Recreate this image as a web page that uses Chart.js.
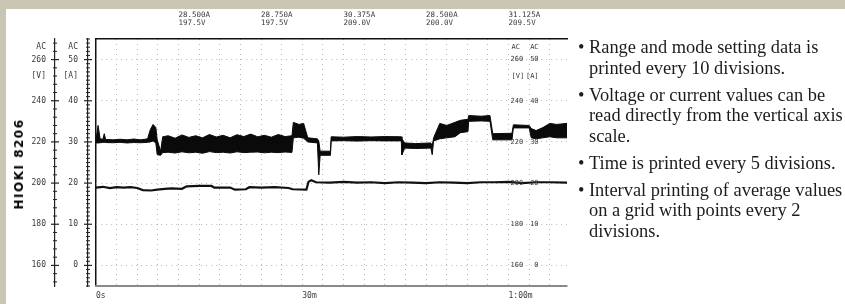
<!DOCTYPE html>
<html>
<head>
<meta charset="utf-8">
<script src="https://cdn.jsdelivr.net/npm/chart.js@4.4.1/dist/chart.umd.min.js"></script>
<style>
html, body { margin: 0; padding: 0; }
body { width: 845px; height: 304px; overflow: hidden; background: #c9c7b3; position: relative; }
#sheet { position: absolute; left: 6px; top: 9px; right: 0; bottom: 0; background: #fff; }
#chart { position: absolute; left: 0; top: 0; }
#brand { position: absolute; left: 19px; top: 164px; transform: translate(-50%, -50%) rotate(-90deg);
  font: bold 12px "DejaVu Sans", sans-serif; letter-spacing: 1.5px; white-space: nowrap; color: #000; }
#notes { position: absolute; left: 578px; top: 37px; font-family: "Liberation Serif", "Times New Roman", serif;
  font-size: 18.4px; line-height: 20.5px; color: #1c1c1c; white-space: nowrap; }
#notes .item { position: relative; padding-left: 11px; margin-bottom: 6.5px; }
#notes .item span { position: absolute; left: 0; top: 0; }
</style>
</head>
<body>
<div id="sheet"></div>
<canvas id="chart" width="845" height="304"></canvas>
<div id="brand">HIOKI 8206</div>
<div id="notes">
  <div class="item"><span>•</span>Range and mode setting data is<br>printed every 10 divisions.</div>
  <div class="item"><span>•</span>Voltage or current values can be<br>read directly from the vertical axis<br>scale.</div>
  <div class="item"><span>•</span>Time is printed every 5 divisions.</div>
  <div class="item"><span>•</span>Interval printing of average values<br>on a grid with points every 2<br>divisions.</div>
</div>
<script>
// time in minutes, voltage envelope (max / min of each printed interval)
const voltTime = [0, 0.3, 0.6, 1.0, 1.2, 1.4, 2.5, 3.5, 4.5, 5.5, 6.5, 7.5, 7.9, 8.3, 8.7, 8.9, 9.4, 9.7,
  10.5, 11.5, 12.5, 13.5, 14.5, 15.5, 16.5, 17.5, 18.5, 19.5, 20.5, 21.5, 22.5, 23.5, 24.5, 25.5, 26.5, 27.5,
  28.5, 28.7, 29.5, 30.2, 30.8, 32.2, 32.4, 32.6, 34.1, 34.2, 36, 38, 40, 42, 44.4, 44.5, 44.9, 46.5,
  48.7, 48.9, 49.1, 50.0, 51.0, 52.2, 53.0, 54.1, 54.2, 56.0, 57.3, 57.7, 60.5, 60.7, 63.0, 63.3, 64.0,
  65.0, 66.0, 67.0, 68.5];
const voltHigh = [221.0, 228.0, 221.5, 221.3, 224.0, 221.2, 221.0, 221.3, 221.0, 221.4, 221.0, 221.5, 226.0, 228.5, 227.0, 221.0, 215.5, 222.5,
  223.0, 221.8, 223.4, 222.2, 223.0, 222.0, 223.6, 222.4, 223.2, 222.0, 223.5, 222.6, 223.8, 222.5, 223.2, 222.3, 223.6, 222.6,
  223.0, 229.5, 228.5, 229.0, 222.0, 221.5, 220.5, 215.5, 215.5, 222.5, 222.3, 222.6, 222.4, 222.6, 222.5, 221.5, 219.5, 219.2,
  219.5, 218.0, 222.0, 229.0, 228.0, 229.5, 230.5, 231.0, 232.8, 232.5, 232.8, 224.0, 224.2, 228.3, 228.0, 226.5, 225.5,
  227.0, 229.0, 228.5, 229.0];
const voltLow = [219.5, 219.5, 219.6, 219.8, 219.8, 219.7, 219.6, 219.8, 219.5, 219.7, 219.6, 219.8, 220.0, 220.5, 219.5, 213.8, 213.5, 214.8,
  215.0, 214.6, 215.2, 214.7, 215.0, 214.5, 215.3, 214.8, 215.0, 214.6, 215.2, 214.8, 215.0, 215.1, 214.7, 215.0, 214.8, 215.1,
  214.9, 222.0, 222.3, 221.8, 220.0, 219.5, 204.0, 213.5, 213.5, 220.5, 220.6, 220.4, 220.6, 220.5, 220.5, 213.8, 217.0, 216.8,
  217.0, 213.8, 220.5, 221.5, 222.0, 222.5, 224.5, 225.0, 230.0, 230.2, 230.0, 221.0, 221.0, 226.8, 226.8, 222.0, 221.5,
  222.0, 222.5, 222.0, 222.0];

// current trace
const ampTime = [0, 1, 2, 3, 4, 5, 6, 6.8, 8, 8.9, 10, 11, 12.5, 13.2, 15, 16.8, 17.2, 19.5, 20.2, 21.8, 22.3, 24, 26, 28,
  28.6, 30.6, 30.9, 31.3, 32, 34, 36, 38, 40, 42, 44, 46, 48, 50, 52, 54, 56, 58, 60, 62, 64, 66, 68.5];
const ampValue = [18.9, 19.1, 18.8, 19.0, 18.9, 19.0, 18.8, 18.3, 18.2, 18.4, 18.6, 18.7, 18.6, 19.2, 19.3, 19.3, 18.9, 18.9, 18.4, 18.5, 19.0, 18.9, 19.0, 18.8,
  18.5, 18.4, 20.3, 20.7, 20.2, 20.1, 20.3, 20.1, 20.2, 20.0, 20.2, 20.1, 20.0, 20.2, 20.1, 20.0, 20.2, 20.2, 20.3, 20.0, 20.2, 20.2, 20.1];

// range / mode printout every 10 divisions
const rangeTimes = [12, 24, 36, 48, 60];
const rangeCurrent = ['28.500A', '28.750A', '30.375A', '28.500A', '31.125A'];
const rangeVoltage = ['197.5V', '197.5V', '209.0V', '200.0V', '209.5V'];

const timeTicks = [0, 30, 60];
const timeLabels = ['0s', '30m', '1:00m'];
const voltTicks = [160, 180, 200, 220, 240, 260];
const ampTicks = [0, 10, 20, 30, 40, 50];
const voltUnits = { 266: 'AC', 252: '[V]' };
const ampUnits = { 53: 'AC', 46: '[A]' };

const tickFont = { family: 'DejaVu Sans Mono', size: 8 };
const ink = '#3a3a3a';
const gridInk = '#b8b8b8';

function pts(xs, ys) {
  return xs.map((t, i) => ({ x: t, y: ys[i] }));
}

function axisTicks(from, to, step, extra) {
  const vals = [];
  for (let v = from; v <= to; v += step) vals.push(v);
  Object.keys(extra).forEach(k => { if (!vals.includes(+k)) vals.push(+k); });
  return vals.sort((a, b) => a - b);
}

// tick crosses on the two scales and the repeated scale at 1:00
const recorderMarks = {
  id: 'recorderMarks',
  afterDraw(chart) {
    const { ctx, scales } = chart;
    ctx.save();
    ctx.strokeStyle = '#222';
    [[scales.yV, voltTicks, 4], [scales.yA, ampTicks, 1]].forEach(([s, majors, step]) => {
      const ax = s.right;
      s.ticks.forEach(t => {
        if (t.value % step !== 0) return;
        const y = s.getPixelForValue(t.value);
        const len = majors.includes(t.value) ? 4 : 2;
        ctx.lineWidth = majors.includes(t.value) ? 1.2 : 1;
        ctx.beginPath();
        ctx.moveTo(ax - len, y);
        ctx.lineTo(ax + len, y);
        ctx.stroke();
      });
    });
    const x60 = scales.x.getPixelForValue(60);
    ctx.font = '7px "DejaVu Sans Mono"';
    ctx.fillStyle = ink;
    ctx.textBaseline = 'middle';
    voltTicks.forEach((v, i) => {
      const y = scales.yV.getPixelForValue(v);
      ctx.textAlign = 'left';
      ctx.fillText(String(v), x60 + 2, y);
      ctx.textAlign = 'right';
      ctx.fillText(String(ampTicks[i]), x60 + 30, y);
    });
    Object.keys(voltUnits).forEach(k => {
      const y = scales.yV.getPixelForValue(+k);
      ctx.textAlign = 'left';
      ctx.fillText(voltUnits[k], x60 + 3, y);
    });
    Object.keys(ampUnits).forEach(k => {
      const y = scales.yA.getPixelForValue(+k);
      ctx.textAlign = 'right';
      ctx.fillText(ampUnits[k], x60 + 30, y);
    });
    ctx.restore();
  }
};

new Chart(document.getElementById('chart'), {
  type: 'line',
  data: {
    datasets: [
      { label: 'Voltage max', data: pts(voltTime, voltHigh), xAxisID: 'x', yAxisID: 'yV',
        borderColor: '#0a0a0a', backgroundColor: '#0a0a0a', borderWidth: 1, pointRadius: 0, fill: '+1', tension: 0 },
      { label: 'Voltage min', data: pts(voltTime, voltLow), xAxisID: 'x', yAxisID: 'yV',
        borderColor: '#0a0a0a', borderWidth: 1, pointRadius: 0, fill: false, tension: 0 },
      { label: 'Current', data: pts(ampTime, ampValue), xAxisID: 'x', yAxisID: 'yA',
        borderColor: '#111', borderWidth: 2.2, pointRadius: 0, fill: false, tension: 0 }
    ]
  },
  options: {
    responsive: false,
    animation: false,
    devicePixelRatio: 1,
    layout: { padding: { left: 20, right: 278, top: 9, bottom: 0 } },
    plugins: { legend: { display: false }, tooltip: { enabled: false } },
    scales: {
      x: {
        type: 'linear', axis: 'x', position: 'bottom', min: 0, max: 68.5,
        afterBuildTicks: s => { s.ticks = axisTicks(0, 66, 3, {}).map(v => ({ value: v })); },
        afterFit: s => { s.height = 18; },
        ticks: {
          autoSkip: false, maxRotation: 0, align: 'start', padding: 5, color: ink, font: tickFont,
          callback: v => { const i = timeTicks.indexOf(v); return i >= 0 ? timeLabels[i] : ''; }
        },
        grid: {
          drawTicks: false,
          color: c => (c.tick && c.tick.value === 0) ? '#111' : gridInk,
          lineWidth: c => (c.tick && c.tick.value === 0) ? 1.5 : 1
        },
        border: { display: true, color: '#8a8a8a', width: 2, dash: c => (c.tick && c.tick.value !== 0) ? [1, 4] : [] }
      },
      xTop: {
        type: 'linear', axis: 'x', position: 'top', min: 0, max: 68.5,
        afterBuildTicks: s => { s.ticks = rangeTimes.map(v => ({ value: v })); },
        afterFit: s => { s.height = 30; },
        ticks: {
          autoSkip: false, maxRotation: 0, align: 'start', padding: 4, color: ink,
          font: { family: 'DejaVu Sans Mono', size: 7.5, lineHeight: 1.05 },
          callback: v => { const i = rangeTimes.indexOf(v); return i >= 0 ? [rangeCurrent[i], rangeVoltage[i]] : ''; }
        },
        grid: { display: false },
        border: { display: true, color: '#111', width: 1.5 }
      },
      yV: {
        type: 'linear', axis: 'y', position: 'left', weight: 3, min: 150, max: 270,
        afterBuildTicks: s => { s.ticks = axisTicks(152, 268, 4, voltUnits).map(v => ({ value: v })); },
        afterFit: s => { s.width = 35; },
        ticks: {
          autoSkip: false, padding: 9, color: ink, font: tickFont,
          callback: v => voltUnits[v] || (voltTicks.includes(v) ? String(v) : '')
        },
        grid: {
          drawTicks: false,
          color: c => (c.tick && c.tick.value % 10 === 0 && c.tick.value >= 160 && c.tick.value <= 260) ? gridInk : 'transparent'
        },
        border: { display: true, color: '#222', width: 1.2, dash: [1, 4] }
      },
      yA: {
        type: 'linear', axis: 'y', position: 'left', weight: 2, min: -5, max: 55,
        afterBuildTicks: s => { s.ticks = axisTicks(-5, 55, 1, ampUnits).map(v => ({ value: v })); },
        afterFit: s => { s.width = 33; },
        ticks: {
          autoSkip: false, padding: 10, color: ink, font: tickFont,
          callback: v => ampUnits[v] || (ampTicks.includes(v) ? String(v) : '')
        },
        grid: { display: false, drawTicks: false },
        border: { display: true, color: '#222', width: 1.2 }
      },
      yGap: {
        type: 'linear', axis: 'y', position: 'left', weight: 1,
        afterFit: s => { s.width = 8; },
        ticks: { display: false },
        grid: { display: false, drawTicks: false },
        border: { display: false }
      }
    }
  },
  plugins: [recorderMarks]
});
</script>
</body>
</html>
